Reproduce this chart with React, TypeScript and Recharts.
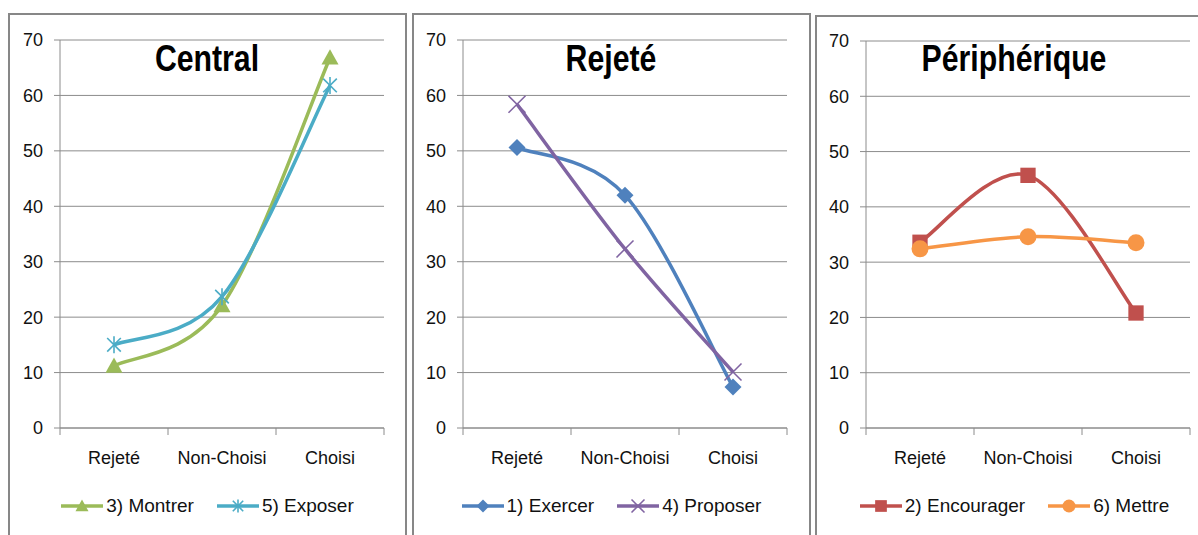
import React from "react";
import { LineChart, Line, XAxis, YAxis, CartesianGrid } from "recharts";

const categories = ["Rejeté", "Non-Choisi", "Choisi"];
const yTicks = [0, 10, 20, 30, 40, 50, 60, 70];
const xTicks = [0, 0.5, 1, 1.5, 2, 2.5, 3];

const montrer = [11.2, 22.1, 66.8];
const exposer = [15.0, 23.7, 61.8];
const exercer = [50.6, 42.0, 7.4];
const proposer = [58.4, 32.3, 10.1];
const encourager = [33.6, 45.7, 20.8];
const mettre = [32.4, 34.6, 33.5];

const FONT = "'Liberation Sans', Arial, sans-serif";
const GRID = "#8c8c8c";
const PANEL_W = 399;
const CHART_H = 535;
const PLOT_BOTTOM = 428;

type MarkerKind = "triangle" | "star" | "diamond" | "cross" | "square" | "circle";

interface SeriesConfig {
  name: string;
  values: number[];
  color: string;
  marker: MarkerKind;
}

interface PanelConfig {
  title: string;
  left: number;
  top: number;
  plotTop: number;
  plotLeft: number;
  plotRight: number;
  series: SeriesConfig[];
}

const panels: PanelConfig[] = [
  {
    title: "Central",
    left: 8,
    top: 13,
    plotTop: 40,
    plotLeft: 52,
    plotRight: 376,
    series: [
      { name: "3) Montrer", values: montrer, color: "#9BBB59", marker: "triangle" },
      { name: "5) Exposer", values: exposer, color: "#4BACC6", marker: "star" },
    ],
  },
  {
    title: "Rejeté",
    left: 412,
    top: 13,
    plotTop: 40,
    plotLeft: 51,
    plotRight: 375,
    series: [
      { name: "1) Exercer", values: exercer, color: "#4F81BD", marker: "diamond" },
      { name: "4) Proposer", values: proposer, color: "#8064A2", marker: "cross" },
    ],
  },
  {
    title: "Périphérique",
    left: 815,
    top: 15,
    plotTop: 41,
    plotLeft: 51,
    plotRight: 375,
    series: [
      { name: "2) Encourager", values: encourager, color: "#C0504D", marker: "square" },
      { name: "6) Mettre", values: mettre, color: "#F79646", marker: "circle" },
    ],
  },
];

// Excel-like smoothed line (Catmull-Rom as cubic beziers)
function excelSmooth(context: any) {
  let pts: [number, number][] = [];
  return {
    areaStart() {},
    areaEnd() {},
    lineStart() {
      pts = [];
    },
    lineEnd() {
      const n = pts.length;
      if (!n) return;
      context.moveTo(pts[0][0], pts[0][1]);
      for (let i = 0; i < n - 1; i++) {
        const p0 = pts[Math.max(i - 1, 0)];
        const p1 = pts[i];
        const p2 = pts[i + 1];
        const p3 = pts[Math.min(i + 2, n - 1)];
        context.bezierCurveTo(
          p1[0] + (p2[0] - p0[0]) / 6,
          p1[1] + (p2[1] - p0[1]) / 6,
          p2[0] - (p3[0] - p1[0]) / 6,
          p2[1] - (p3[1] - p1[1]) / 6,
          p2[0],
          p2[1]
        );
      }
    },
    point(x: number, y: number) {
      pts.push([+x, +y]);
    },
  };
}

function Marker({ kind, cx, cy, r, color }: { kind: MarkerKind; cx: number; cy: number; r: number; color: string }) {
  switch (kind) {
    case "triangle":
      return <polygon points={`${cx},${cy - r} ${cx + r},${cy + r * 0.8} ${cx - r},${cy + r * 0.8}`} fill={color} />;
    case "star":
      return (
        <g stroke={color} strokeWidth={1.6}>
          <line x1={cx} y1={cy - r} x2={cx} y2={cy + r} />
          <line x1={cx - r * 0.8} y1={cy - r * 0.8} x2={cx + r * 0.8} y2={cy + r * 0.8} />
          <line x1={cx - r * 0.8} y1={cy + r * 0.8} x2={cx + r * 0.8} y2={cy - r * 0.8} />
        </g>
      );
    case "diamond":
      return <polygon points={`${cx},${cy - r} ${cx + r},${cy} ${cx},${cy + r} ${cx - r},${cy}`} fill={color} />;
    case "cross":
      return (
        <g stroke={color} strokeWidth={1.6}>
          <line x1={cx - r} y1={cy - r} x2={cx + r} y2={cy + r} />
          <line x1={cx - r} y1={cy + r} x2={cx + r} y2={cy - r} />
        </g>
      );
    case "square":
      return <rect x={cx - r * 0.9} y={cy - r * 0.9} width={r * 1.8} height={r * 1.8} fill={color} />;
    default:
      return <circle cx={cx} cy={cy} r={r} fill={color} />;
  }
}

function CategoryTick(props: any) {
  const { x, y, payload } = props;
  const v = Number(payload.value);
  if (Number.isInteger(v)) {
    return <line x1={x} y1={y} x2={x} y2={y + 7} stroke={GRID} />;
  }
  return (
    <text x={x} y={y + 36} textAnchor="middle" fontFamily={FONT} fontSize={18} fill="#111">
      {categories[Math.floor(v)]}
    </text>
  );
}

function Panel({ cfg }: { cfg: PanelConfig }) {
  const [s1, s2] = cfg.series;
  const rows = categories.map((cat, i) => ({ x: i + 0.5, cat, a: s1.values[i], b: s2.values[i] }));
  const margin = {
    top: cfg.plotTop,
    left: cfg.plotLeft - 40,
    right: PANEL_W - cfg.plotRight,
    bottom: CHART_H - PLOT_BOTTOM - 40,
  };

  return (
    <>
      <div
        style={{
          position: "absolute",
          left: cfg.left,
          top: cfg.top,
          width: PANEL_W,
          height: 600,
          boxSizing: "border-box",
          border: "2px solid #878787",
        }}
      />
      <div style={{ position: "absolute", left: cfg.left, top: 0 }}>
        <LineChart width={PANEL_W} height={CHART_H} data={rows} margin={margin}>
          <CartesianGrid vertical={false} stroke={GRID} />
          <XAxis
            dataKey="x"
            type="number"
            domain={[0, 3]}
            ticks={xTicks}
            interval={0}
            height={40}
            tickSize={0}
            tickMargin={0}
            tickLine={false}
            axisLine={{ stroke: GRID }}
            tick={<CategoryTick />}
          />
          <YAxis
            type="number"
            domain={[0, 70]}
            ticks={yTicks}
            width={40}
            tickSize={6}
            tickMargin={11}
            tickLine={{ stroke: GRID }}
            axisLine={{ stroke: GRID }}
            tick={{ fontFamily: FONT, fontSize: 18, fill: "#111" }}
          />
          {[s1, s2].map((s, idx) => (
            <Line
              key={s.name}
              dataKey={idx === 0 ? "a" : "b"}
              name={s.name}
              type={excelSmooth as any}
              stroke={s.color}
              strokeWidth={3.5}
              isAnimationActive={false}
              activeDot={false}
              dot={(p: any) => (
                <Marker key={`${s.name}-${p.index}`} kind={s.marker} cx={p.cx} cy={p.cy} r={8.5} color={s.color} />
              )}
            />
          ))}
        </LineChart>
      </div>
      <div
        style={{
          position: "absolute",
          left: cfg.left + 199,
          top: 40.5,
          transform: "translateX(-50%) scaleX(0.84)",
          fontFamily: FONT,
          fontWeight: "bold",
          fontSize: 36,
          lineHeight: "36px",
          whiteSpace: "nowrap",
          color: "#000",
        }}
      >
        {cfg.title}
      </div>
      <div
        style={{
          position: "absolute",
          left: cfg.left,
          top: 496,
          width: PANEL_W,
          height: 20,
          display: "flex",
          justifyContent: "center",
          alignItems: "center",
          gap: 23,
        }}
      >
        {cfg.series.map((s) => (
          <div key={s.name} style={{ display: "flex", alignItems: "center" }}>
            <svg width={42} height={20}>
              <line x1={0} y1={10} x2={42} y2={10} stroke={s.color} strokeWidth={3.5} />
              <Marker kind={s.marker} cx={21} cy={10} r={6.5} color={s.color} />
            </svg>
            <span
              style={{
                marginLeft: 3,
                fontFamily: FONT,
                fontSize: 19,
                lineHeight: "20px",
                color: "#111",
                whiteSpace: "nowrap",
              }}
            >
              {s.name}
            </span>
          </div>
        ))}
      </div>
    </>
  );
}

export default function App() {
  return (
    <div
      style={{
        position: "absolute",
        left: 0,
        top: 0,
        width: 1198,
        height: 535,
        overflow: "hidden",
        background: "#fff",
      }}
    >
      {panels.map((p) => (
        <Panel key={p.title} cfg={p} />
      ))}
    </div>
  );
}
